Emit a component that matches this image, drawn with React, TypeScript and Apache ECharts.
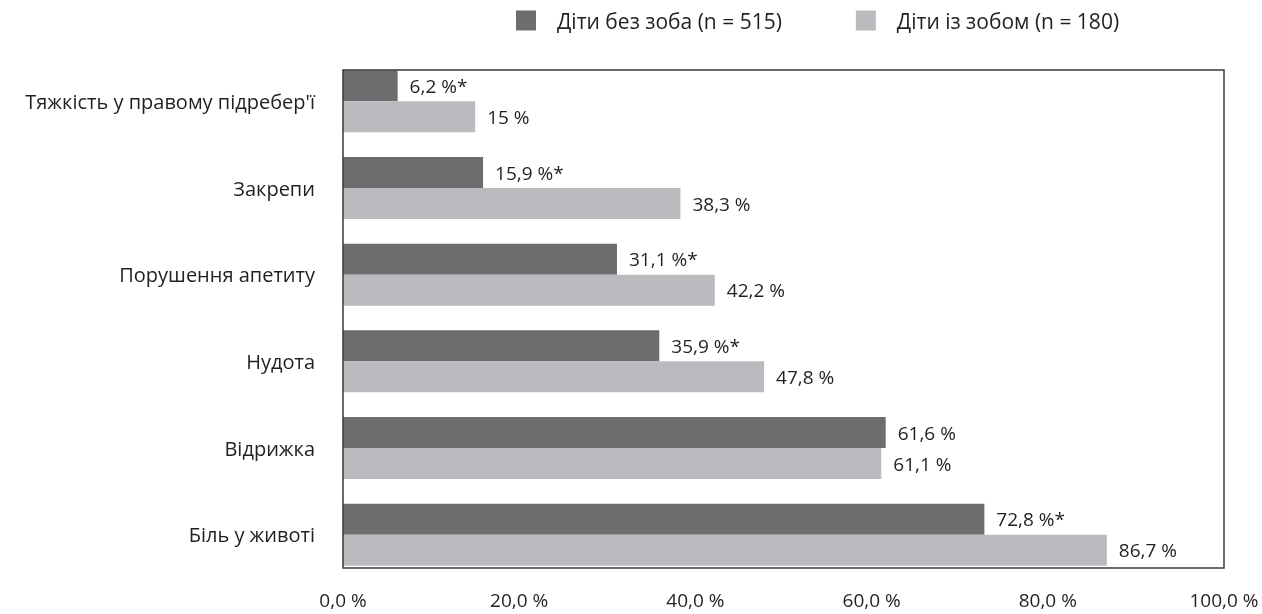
import React, { useEffect, useRef } from "react";
import * as echarts from "echarts";

const categories = [
  "Тяжкість у правому підребер'ї",
  "Закрепи",
  "Порушення апетиту",
  "Нудота",
  "Відрижка",
  "Біль у животі",
];
const seriesNames = ["Діти без зоба (n = 515)", "Діти із зобом (n = 180)"];
const withoutGoiter = [6.2, 15.9, 31.1, 35.9, 61.6, 72.8];
const withoutGoiterStar = [true, true, true, true, false, true];
const withGoiter = [15, 38.3, 42.2, 47.8, 61.1, 86.7];
const withGoiterStar = [false, false, false, false, false, false];
const xTicks = [0, 20, 40, 60, 80, 100];

const FONT = "'Open Sans', Lato, sans-serif";
const TEXT = "#231f20";

const fmt = (v: number) => String(v).replace(".", ",");

export default function App() {
  const ref = useRef<HTMLDivElement>(null);
  useEffect(() => {
    if (!ref.current) return;
    const chart = echarts.init(ref.current, undefined, { renderer: "svg" });
    const mkLabel = (stars: boolean[]) => ({
      show: true,
      position: "right",
      distance: 12,
      color: TEXT,
      fontFamily: FONT,
      fontSize: 19,
      formatter: (p: any) => fmt(p.value) + " %" + (stars[p.dataIndex] ? "*" : ""),
    });
    chart.setOption({
      animation: false,
      textStyle: { fontFamily: FONT, color: TEXT },
      legend: {
        data: seriesNames,
        left: 516,
        top: 10,
        padding: 0,
        itemWidth: 20,
        itemHeight: 20,
        itemGap: 74,
        icon: "rect",
        textStyle: { fontFamily: FONT, fontSize: 21, color: TEXT, padding: [0, 0, 0, 16] },
      },
      grid: { left: 343, right: 38, top: 58, bottom: 36, containLabel: false },
      xAxis: {
        type: "value",
        min: xTicks[0],
        max: xTicks[xTicks.length - 1],
        interval: 20,
        axisLine: { show: false },
        axisTick: { show: false },
        splitLine: { show: false },
        axisLabel: {
          margin: 12,
          color: TEXT,
          fontFamily: FONT,
          fontSize: 19,
          formatter: (v: number) => v.toFixed(1).replace(".", ",") + " %",
        },
      },
      yAxis: {
        type: "category",
        data: categories,
        inverse: true,
        axisLine: { show: false },
        axisTick: { show: false },
        axisLabel: { margin: 28, color: TEXT, fontFamily: FONT, fontSize: 20 },
      },
      series: [
        {
          name: seriesNames[0],
          type: "bar",
          data: withoutGoiter,
          barWidth: 31,
          barGap: "0%",
          itemStyle: { color: "#6d6d70" },
          label: mkLabel(withoutGoiterStar),
        },
        {
          name: seriesNames[1],
          type: "bar",
          data: withGoiter,
          barWidth: 31,
          barGap: "0%",
          itemStyle: { color: "#bbbbbf" },
          label: mkLabel(withGoiterStar),
        },
      ],
      graphic: [
        {
          type: "rect",
          shape: { x: 343, y: 70, width: 881, height: 498 },
          style: { fill: "none", stroke: "#3a3a3a", lineWidth: 1.5 },
          z: 100,
          silent: true,
        },
      ],
    });
    return () => chart.dispose();
  }, []);
  return (
    <div
      ref={ref}
      style={{ position: "fixed", left: 0, top: 0, width: 1262, height: 614 }}
    />
  );
}
